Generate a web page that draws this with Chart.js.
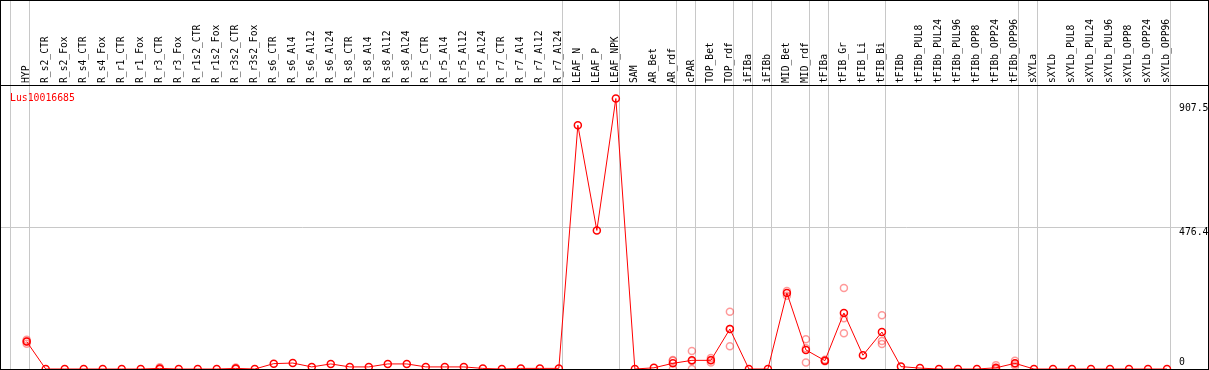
<!DOCTYPE html>
<html>
<head>
<meta charset="utf-8">
<script src="https://cdn.jsdelivr.net/npm/chart.js@4.4.0/dist/chart.umd.min.js"></script>
<style>
  html, body { margin: 0; padding: 0; background: #fff; }
  #box { width: 1207px; height: 368px; border: 1px solid #000; }
  canvas { display: block; }
</style>
</head>
<body>
<div id="box"><canvas id="myChart" width="1207" height="368"></canvas></div>
<script>
// Gene shown in the plot
var seriesName = 'Lus10016685';

// Sample names along the x-axis
var categories = [
  'HYP', 'R_s2_CTR', 'R_s2_Fox', 'R_s4_CTR', 'R_s4_Fox', 'R_r1_CTR', 'R_r1_Fox', 'R_r3_CTR', 'R_r3_Fox',
  'R_r1s2_CTR', 'R_r1s2_Fox', 'R_r3s2_CTR', 'R_r3s2_Fox', 'R_s6_CTR', 'R_s6_Al4', 'R_s6_Al12', 'R_s6_Al24',
  'R_s8_CTR', 'R_s8_Al4', 'R_s8_Al12', 'R_s8_Al24', 'R_r5_CTR', 'R_r5_Al4', 'R_r5_Al12', 'R_r5_Al24',
  'R_r7_CTR', 'R_r7_Al4', 'R_r7_Al12', 'R_r7_Al24', 'LEAF_N', 'LEAF_P', 'LEAF_NPK', 'SAM', 'AR_Bet', 'AR_rdf',
  'cPAR', 'TOP_Bet', 'TOP_rdf', 'iFIBa', 'iFIBb', 'MID_Bet', 'MID_rdf', 'tFIBa', 'tFIB_Gr', 'tFIB_Li', 'tFIB_Bi',
  'tFIBb', 'tFIBb_PUL8', 'tFIBb_PUL24', 'tFIBb_PUL96', 'tFIBb_OPP8', 'tFIBb_OPP24', 'tFIBb_OPP96', 'sXYLa',
  'sXYLb', 'sXYLb_PUL8', 'sXYLb_PUL24', 'sXYLb_PUL96', 'sXYLb_OPP8', 'sXYLb_OPP24', 'sXYLb_OPP96'
];

// Mean expression per sample (the red line)
var meanValues = [
  92, 0, 0, 0, 0, 0, 0, 2, 0,
  0, 0, 2, 0, 18, 20, 7, 17,
  7, 7, 17, 17, 7, 7, 7, 2,
  0, 2, 2, 2, 818, 465, 907.5, 0, 4, 19,
  29, 29, 134, 0, 0, 255, 64, 28, 188, 46, 124,
  8, 3, 0, 0, 0, 4, 19, 0,
  0, 0, 0, 0, 0, 0, 0
];

// Single replicates (faint circles), where they differ from the mean
var replicateValues = [
  [85, 92, 98], [], [], [], [], [], [], [0, 0, 6], [],
  [], [], [0, 2, 5], [], [], [], [], [],
  [], [], [], [], [], [], [], [],
  [], [], [], [], [], [], [], [], [], [0, 28, 30],
  [0, 27, 60], [22, 30, 37], [76, 134, 192], [], [], [246, 262], [22, 70, 100], [26, 28, 31], [120, 170, 272], [], [84, 94, 180],
  [], [], [], [], [], [0, 0, 13], [12, 18, 28], [],
  [], [], [], [], [], [], []
];

// Index of the last sample in each group (vertical separators)
var groupEnds = [-1, 0, 28, 31, 34, 35, 37, 38, 39, 41, 42, 45, 52, 53, 60];

// Labels on the value axis
var yTickValues = [0, 476.4, 907.5];
var yMax = Math.max.apply(null, meanValues) * 1.05;

var ctx = document.getElementById('myChart').getContext('2d');
var monoFont = '"DejaVu Sans Mono", "Liberation Mono", monospace';

var lineData = meanValues.map(function(v, i) { return {x: i, y: v}; });
var repData = [];
replicateValues.forEach(function(reps, i) {
  reps.forEach(function(v) { repData.push({x: i, y: v}); });
});

// separators sit a little right of the last sample of a group
function isSeparator(value) {
  return !Number.isInteger(value);
}
function sepColor(context) {
  return context.tick && isSeparator(context.tick.value) ? '#c8c8c8' : 'rgba(0,0,0,0)';
}

// series name and value labels
var textPlugin = {
  id: 'textPlugin',
  afterDraw: function(chart) {
    var c = chart.ctx, area = chart.chartArea, yScale = chart.scales.y;
    c.save();
    c.font = '9.8px ' + monoFont;
    c.textBaseline = 'alphabetic';
    c.textAlign = 'left';
    c.fillStyle = '#ff0000';
    c.fillText(seriesName, area.left + 9, area.top + 16);
    c.fillStyle = '#000';
    yTickValues.forEach(function(v) {
      var base = yScale.getPixelForValue(v) + 8;
      base = Math.min(Math.max(base, area.top + 26), area.bottom - 4);
      c.fillText(String(v), area.right - 29, base);
    });
    c.restore();
  }
};

var myChart = new Chart(ctx, {
  type: 'line',
  data: {
    datasets: [{
      label: seriesName,
      data: lineData,
      borderColor: '#ff0000',
      borderWidth: 1,
      pointRadius: 3.5,
      pointBorderWidth: 1.5,
      pointBorderColor: '#ff0000',
      pointBackgroundColor: 'rgba(0,0,0,0)',
      fill: false,
      tension: 0,
      order: 0
    }, {
      label: 'replicates',
      data: repData,
      showLine: false,
      pointRadius: 3.5,
      pointBorderWidth: 1.5,
      pointBorderColor: 'rgba(255,0,0,0.4)',
      pointBackgroundColor: 'rgba(0,0,0,0)',
      order: 1
    }]
  },
  options: {
    responsive: false,
    animation: false,
    devicePixelRatio: 1,
    layout: { padding: 0, autoPadding: false },
    plugins: {
      legend: { display: false },
      tooltip: { enabled: false }
    },
    scales: {
      x: {
        type: 'linear',
        position: 'top',
        min: -1.352,
        max: 62.157,
        afterBuildTicks: function(scale) {
          var ticks = categories.map(function(c, i) { return {value: i}; });
          groupEnds.forEach(function(e) { ticks.push({value: e + 0.17}); });
          ticks.sort(function(a, b) { return a.value - b.value; });
          scale.ticks = ticks;
        },
        afterFit: function(scale) {
          scale.height = 84;
          scale.paddingLeft = 0;
          scale.paddingRight = 0;
        },
        grid: {
          color: sepColor,
          tickColor: sepColor,
          drawTicks: true,
          tickLength: 84,
          lineWidth: 1
        },
        border: { display: true, color: '#000', width: 1 },
        ticks: {
          autoSkip: false,
          minRotation: 90,
          maxRotation: 90,
          padding: -82,
          labelOffset: 9,
          color: '#000',
          font: { family: monoFont, size: 9.7, lineHeight: 1 },
          callback: function(value) {
            return isSeparator(value) ? '' : categories[value];
          }
        }
      },
      y: {
        type: 'linear',
        position: 'right',
        min: 0,
        max: yMax,
        afterBuildTicks: function(scale) {
          scale.ticks = [{value: yMax / 2}];
        },
        afterFit: function(scale) {
          scale.width = 0;
          scale.paddingTop = 0;
          scale.paddingBottom = 0;
        },
        grid: { color: '#c8c8c8', drawTicks: false, lineWidth: 1 },
        border: { display: false },
        ticks: { display: false }
      }
    }
  },
  plugins: [textPlugin]
});
</script>
</body>
</html>
